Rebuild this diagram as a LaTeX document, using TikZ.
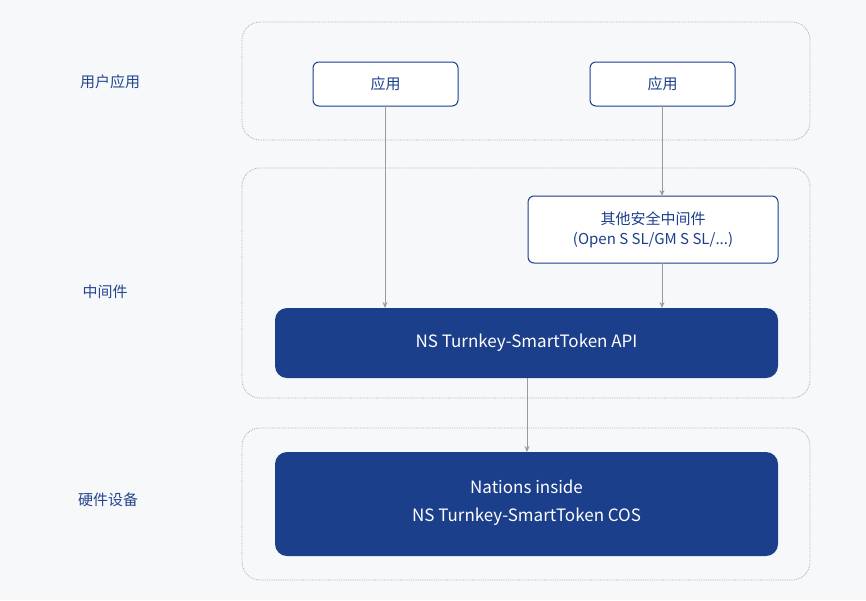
\documentclass[tikz,border=0pt]{standalone}
\usepackage{fontspec}
\setmainfont{Noto Sans CJK SC}
\usetikzlibrary{arrows.meta}
\definecolor{bg}{HTML}{F7F8FA}
\definecolor{nb}{HTML}{1B3F8B}
\definecolor{lb}{HTML}{24468F}
\definecolor{gl}{HTML}{9A9A9A}
\begin{document}
\begin{tikzpicture}[x=1pt,y=-1pt,
  grp/.style={draw=gl!80,densely dotted,rounded corners=18pt,line width=0.8pt},
  lab/.style={text=lb,font=\fontsize{15}{18}\selectfont},
  app/.style={draw=nb,fill=white,rounded corners=6pt,line width=1pt,text=nb,font=\fontsize{15}{18}\selectfont,align=center},
  dark/.style={fill=nb,rounded corners=12pt,text=white,font=\fontsize{17}{24}\selectfont,align=center},
  arr/.style={draw=gl,line width=0.8pt,-{Stealth[length=6pt,width=5pt]}}]
\fill[bg] (0,0) rectangle (866,600);
\useasboundingbox (0,0) rectangle (866,600);
\draw[grp] (242,22) rectangle (810,140);
\draw[grp] (242,168) rectangle (810,398);
\draw[grp] (242,428) rectangle (810,580);
\node[lab] (l1) at (110,82) {用户应用};
\node[lab] (l2) at (105,292) {中间件};
\node[lab] (l3) at (108,500) {硬件设备};
\path[app] (313,62) rectangle (458,106);
\node[text=nb,font=\fontsize{15}{18}\selectfont] (a1) at (385.5,84) {应用};
\coordinate (a1b) at (385,106);
\path[app] (590,62) rectangle (735,106);
\node[text=nb,font=\fontsize{15}{18}\selectfont] (a2) at (662.5,84) {应用};
\coordinate (a2b) at (662,106);
\path[app] (528,196) rectangle (778,263);
\node[text=nb,font=\fontsize{15}{20}\selectfont,align=center] (mw) at (653,229.5) {其他安全中间件\\(Open S SL/GM S SL/...)};
\coordinate (mwt) at (662,196);
\coordinate (mwb) at (662,263);
\path[dark] (275,308) rectangle (778,378);
\node[text=white,font=\fontsize{17}{22}\selectfont] (api) at (526.5,343) {NS Turnkey-SmartToken API};
\coordinate (apit1) at (385,308);
\coordinate (apit2) at (662,308);
\coordinate (apib) at (527,378);
\path[dark] (275,452) rectangle (778,556);
\node[text=white,font=\fontsize{17}{28}\selectfont,align=center] (cos) at (526.5,503) {Nations inside\\NS Turnkey-SmartToken COS};
\coordinate (cost) at (527,452);
\draw[arr] (a1b) -- (apit1);
\draw[arr] (a2b) -- (mwt);
\draw[arr] (mwb) -- (apit2);
\draw[arr] (apib) -- (cost);
\end{tikzpicture}
\end{document}
